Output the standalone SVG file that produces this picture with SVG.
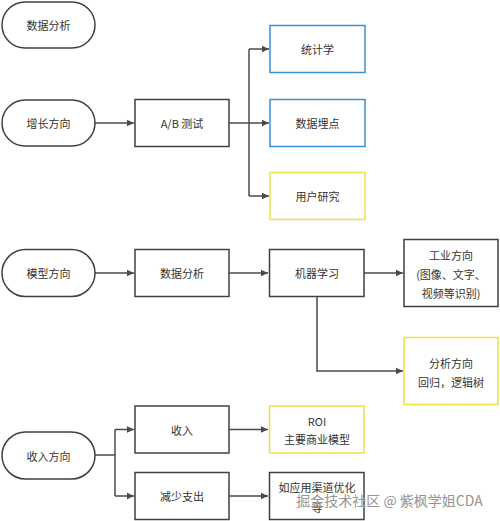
<svg xmlns="http://www.w3.org/2000/svg" width="500" height="521" viewBox="0 0 500 521">
<defs>
<marker id="arr" markerWidth="8" markerHeight="8" refX="7" refY="4" orient="auto" markerUnits="userSpaceOnUse">
<path d="M0,0.8 L7,4 L0,7.2 Z" fill="#4a4a4a"/>
</marker>
<style>
.pill{fill:#fff;stroke:#404040;stroke-width:1.5}
.box{fill:#fff;stroke:#404040;stroke-width:1.5}
.blue{fill:#fff;stroke:#3d8fd1;stroke-width:1.5}
.yel{fill:#fff;stroke:#f0df4a;stroke-width:1.5}
.t{font-family:"Noto Sans CJK SC","Liberation Sans",sans-serif;font-size:11px;fill:#333;text-anchor:middle;dominant-baseline:central}
.c{fill:none;stroke:#4a4a4a;stroke-width:1.5}
.wm{font-family:"Noto Sans CJK SC","Liberation Sans",sans-serif;font-size:14px;fill:#8a8a8a;stroke:#fff;stroke-width:0.6;paint-order:stroke;opacity:0.9;text-anchor:middle;dominant-baseline:central}
</style>
</defs>
<rect width="500" height="521" fill="#fff"/>
<g id="connectors">
<path class="c" d="M95,123 H134" marker-end="url(#arr)"/>
<path class="c" d="M229,123 H249"/>
<path class="c" d="M249,49 V196"/>
<path class="c" d="M249,49 H269" marker-end="url(#arr)"/>
<path class="c" d="M249,123 H269" marker-end="url(#arr)"/>
<path class="c" d="M249,196 H269" marker-end="url(#arr)"/>
<path class="c" d="M95,273 H134" marker-end="url(#arr)"/>
<path class="c" d="M229,273 H268" marker-end="url(#arr)"/>
<path class="c" d="M364,273 H403" marker-end="url(#arr)"/>
<path class="c" d="M317,297 V371 H403" marker-end="url(#arr)"/>
<path class="c" d="M95,455 H115"/>
<path class="c" d="M115,429.5 V496"/>
<path class="c" d="M115,429.5 H134" marker-end="url(#arr)"/>
<path class="c" d="M115,496 H134" marker-end="url(#arr)"/>
<path class="c" d="M229,429.5 H268" marker-end="url(#arr)"/>
<path class="c" d="M229,496 H268" marker-end="url(#arr)"/>
</g>
<g id="n-shujufenxi"><rect class="pill" x="2" y="2" width="93" height="46" rx="23"/><text class="t" x="48.5" y="25">数据分析</text></g>
<g id="n-zengzhang"><rect class="pill" x="2" y="100" width="93" height="46" rx="23"/><text class="t" x="48.5" y="123">增长方向</text></g>
<g id="n-ab"><rect class="box" x="135" y="99.5" width="94" height="47"/><text class="t" x="182" y="123">A/B 测试</text></g>
<g id="n-tongji"><rect class="blue" x="270" y="25.5" width="95" height="47"/><text class="t" x="317.5" y="49">统计学</text></g>
<g id="n-maidian"><rect class="blue" x="270" y="99.5" width="95" height="47"/><text class="t" x="317.5" y="123">数据埋点</text></g>
<g id="n-yonghu"><rect class="yel" x="270" y="172.5" width="95" height="47"/><text class="t" x="317.5" y="196">用户研究</text></g>
<g id="n-moxing"><rect class="pill" x="2" y="249.5" width="93" height="47" rx="23.5"/><text class="t" x="48.5" y="273">模型方向</text></g>
<g id="n-fenxi2"><rect class="box" x="135" y="249.5" width="94" height="47"/><text class="t" x="182" y="273">数据分析</text></g>
<g id="n-jiqi"><rect class="box" x="269.5" y="249.5" width="94.5" height="47"/><text class="t" x="317" y="273">机器学习</text></g>
<g id="n-gongye"><rect class="box" x="404" y="239.5" width="94" height="67"/><text class="t" x="451" y="255">工业方向</text><text class="t" x="451" y="274">(图像、文字、</text><text class="t" x="451" y="293">视频等识别)</text></g>
<g id="n-fenxifx"><rect class="yel" x="404" y="337.5" width="94" height="67"/><text class="t" x="451" y="363">分析方向</text><text class="t" x="451" y="382">回归，逻辑树</text></g>
<g id="n-shouru-fx"><rect class="pill" x="2" y="432" width="93" height="47" rx="23.5"/><text class="t" x="48.5" y="455.5">收入方向</text></g>
<g id="n-shouru"><rect class="box" x="135" y="406" width="94" height="47"/><text class="t" x="182" y="429.5">收入</text></g>
<g id="n-jianshao"><rect class="box" x="135" y="472.5" width="94" height="47"/><text class="t" x="182" y="496">减少支出</text></g>
<g id="n-roi"><rect class="yel" x="269.5" y="406" width="94.5" height="47"/><text class="t" x="317" y="421">ROI</text><text class="t" x="317" y="439">主要商业模型</text></g>
<g id="n-qudao"><rect class="box" x="269.5" y="472.5" width="94.5" height="47"/><text class="t" x="317" y="487">如应用渠道优化</text><text class="t" x="317" y="507">等</text></g>
<text class="wm" x="389.5" y="499.5">掘金技术社区 @ 紫枫学姐CDA</text>
</svg>
